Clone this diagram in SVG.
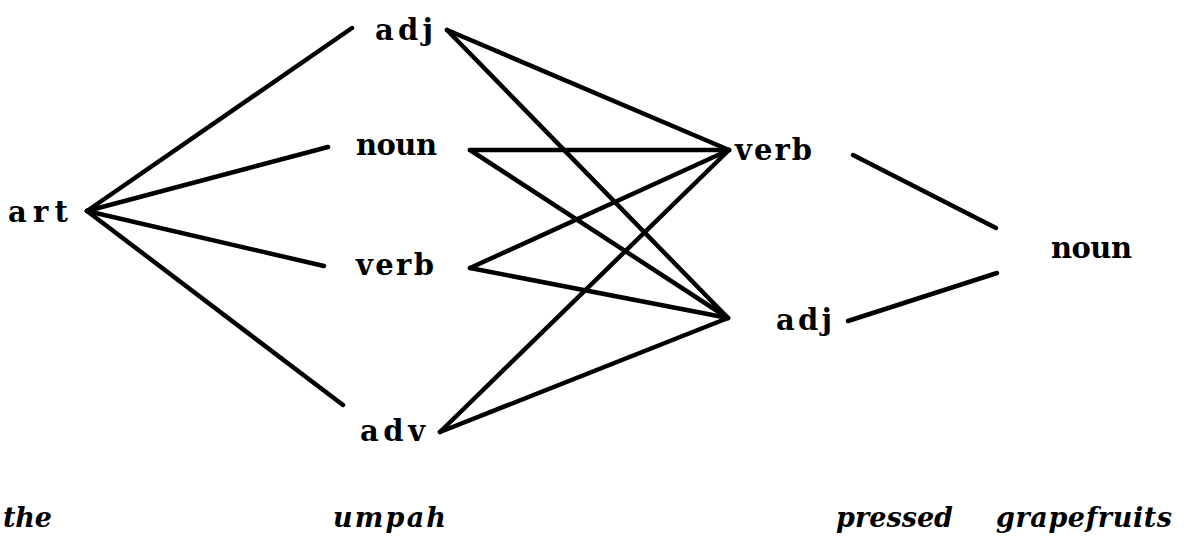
<svg xmlns="http://www.w3.org/2000/svg" width="1196" height="554" viewBox="0 0 1196 554">
  <style>
    .tag { font-family: "DejaVu Serif", "Liberation Serif", serif; font-weight: bold; font-size: 29px; fill: #000; }
    .word { font-family: "DejaVu Serif", "Liberation Serif", serif; font-weight: bold; font-style: italic; font-size: 27px; fill: #000; }
    .edge { stroke: #000; stroke-width: 4.5; stroke-linecap: round; fill: none; }
  </style>
  <rect width="1196" height="554" fill="#fff"/>

  <!-- word lattice connectors -->
  <g id="connectors">
    <line class="edge" x1="87" y1="211" x2="352" y2="28"/>
    <line class="edge" x1="87" y1="211" x2="328" y2="147"/>
    <line class="edge" x1="87" y1="211" x2="324" y2="266"/>
    <line class="edge" x1="87" y1="211" x2="343" y2="405"/>

    <line class="edge" x1="447" y1="30" x2="729" y2="150"/>
    <line class="edge" x1="447" y1="30" x2="728" y2="318"/>
    <line class="edge" x1="470" y1="150" x2="729" y2="150"/>
    <line class="edge" x1="470" y1="150" x2="728" y2="318"/>
    <line class="edge" x1="470" y1="268" x2="729" y2="150"/>
    <line class="edge" x1="470" y1="268" x2="728" y2="318"/>
    <line class="edge" x1="440" y1="432" x2="729" y2="150"/>
    <line class="edge" x1="440" y1="432" x2="728" y2="318"/>

    <line class="edge" x1="853" y1="155" x2="996" y2="228"/>
    <line class="edge" x1="848" y1="321" x2="997" y2="273"/>
  </g>

  <!-- column 1: "the" -->
  <g id="art"><text class="tag" x="8" y="222" textLength="60" lengthAdjust="spacing">art</text></g>

  <!-- column 2: "umpah" -->
  <g id="adj1"><text class="tag" x="375" y="40" textLength="58" lengthAdjust="spacing">adj</text></g>
  <g id="noun1"><text class="tag" x="356" y="155" textLength="81" lengthAdjust="spacing">noun</text></g>
  <g id="verb1"><text class="tag" x="356" y="275" textLength="78" lengthAdjust="spacing">verb</text></g>
  <g id="adv1"><text class="tag" x="360" y="441" textLength="65" lengthAdjust="spacing">adv</text></g>

  <!-- column 3: "pressed" -->
  <g id="verb2"><text class="tag" x="735" y="160" textLength="77" lengthAdjust="spacing">verb</text></g>
  <g id="adj2"><text class="tag" x="776" y="330" textLength="56" lengthAdjust="spacing">adj</text></g>

  <!-- column 4: "grapefruits" -->
  <g id="noun2"><text class="tag" x="1051" y="258" textLength="81" lengthAdjust="spacing">noun</text></g>

  <!-- input words -->
  <g id="words">
    <text class="word" x="3" y="527" textLength="49" lengthAdjust="spacing">the</text>
    <text class="word" x="333" y="527" textLength="113" lengthAdjust="spacing">umpah</text>
    <text class="word" x="836" y="527" textLength="117" lengthAdjust="spacing">pressed</text>
    <text class="word" x="996" y="527" textLength="176" lengthAdjust="spacing">grapefruits</text>
  </g>
</svg>
